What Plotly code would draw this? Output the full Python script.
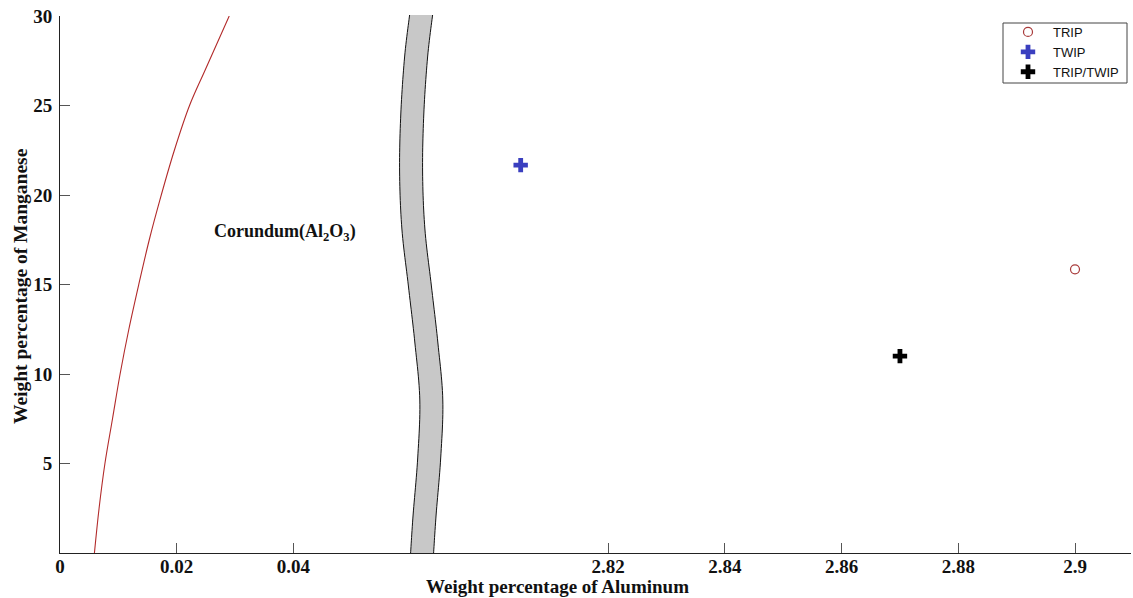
import numpy as np
import plotly.graph_objects as go

# Corundum phase boundary (Al wt% vs Mn wt%)
boundary_al = [0.0059, 0.0067, 0.0077, 0.0090, 0.0103, 0.0118, 0.0135, 0.0153, 0.0171, 0.0196, 0.0222, 0.0249, 0.0290]
boundary_mn = [0.0, 2.5, 5.0, 7.5, 10.0, 12.5, 15.0, 17.5, 19.7, 22.5, 25.0, 27.0, 30.0]

# Steel grades
trip_al, trip_mn = [2.90], [15.85]
twip_al, twip_mn = [2.805], [21.67]
triptwip_al, triptwip_mn = [2.870], [11.0]

left_ticks = [0, 0.02, 0.04]
left_ticklabels = ["0", "0.02", "0.04"]
right_ticks = [2.82, 2.84, 2.86, 2.88, 2.90]
right_ticklabels = ["2.82", "2.84", "2.86", "2.88", "2.9"]
mn_ticks = [5, 10, 15, 20, 25, 30]

W, H = 1133, 598
ML, MR, MT, MB = 60, 2, 16, 45
PW, PH = W - ML - MR, H - MT - MB
BREAK_PX = 422                      # pixel column of the axis break
PX_PER_UNIT = 116.7 / 0.02          # same scale on both x segments
split = (BREAK_PX - ML) / PW
left_range = [0, (BREAK_PX - ML) / PX_PER_UNIT]
right_range = [2.90 - (1075 - BREAK_PX) / PX_PER_UNIT, 2.90 + (W - MR - 1075) / PX_PER_UNIT]

serif = "Liberation Serif"
sans = "Liberation Sans"

fig = go.Figure()

fig.add_trace(go.Scatter(
    x=boundary_al, y=boundary_mn, mode="lines", xaxis="x", yaxis="y",
    line=dict(color="#b22a2a", width=1.1, shape="spline", smoothing=1.0),
    showlegend=False, hoverinfo="skip"))

fig.add_trace(go.Scatter(
    x=trip_al, y=trip_mn, mode="markers", name="TRIP", xaxis="x2", yaxis="y",
    marker=dict(symbol="circle-open", size=9, color="#a83a3a", line=dict(width=1.2))))
fig.add_trace(go.Scatter(
    x=twip_al, y=twip_mn, mode="markers", name="TWIP", xaxis="x2", yaxis="y",
    marker=dict(symbol="cross", size=12, color="#3a3fbf")))
fig.add_trace(go.Scatter(
    x=triptwip_al, y=triptwip_mn, mode="markers", name="TRIP/TWIP", xaxis="x2", yaxis="y",
    marker=dict(symbol="cross", size=12, color="#000000")))


# Wavy grey band marking the break in the x axis (pixel space -> paper space)
band_y = [15, 57, 114, 172, 229, 286, 343, 400, 458, 515, 553]
band_l = [409.6, 404.6, 400.8, 399.6, 401.9, 408.4, 414.9, 419.8, 417.7, 413.1, 410.6]
band_w = 23.0


def catmull(ys, xs, n=12):
    pts = list(zip(xs, ys))
    p = [pts[0]] + pts + [pts[-1]]
    out = []
    for i in range(1, len(p) - 2):
        p0, p1, p2, p3 = map(np.array, (p[i - 1], p[i], p[i + 1], p[i + 2]))
        for t in np.linspace(0, 1, n, endpoint=False):
            t2, t3 = t * t, t * t * t
            out.append(0.5 * ((2 * p1) + (-p0 + p2) * t + (2 * p0 - 5 * p1 + 4 * p2 - p3) * t2
                              + (-p0 + 3 * p1 - 3 * p2 + p3) * t3))
    out.append(np.array(pts[-1]))
    return out


def to_paper(pt):
    return (pt[0] - ML) / PW, 1 - (pt[1] - MT) / PH


left_edge = [to_paper(p) for p in catmull(band_y, band_l)]
right_edge = [to_paper(p) for p in catmull(band_y, [v + band_w for v in band_l])]


def path(points, close=False):
    s = "M " + " L ".join(f"{x:.5f},{y:.5f}" for x, y in points)
    return s + (" Z" if close else "")


fig.add_shape(type="path", xref="paper", yref="paper",
              path=path(left_edge + right_edge[::-1], close=True),
              fillcolor="#c8c8c8", line=dict(width=0), layer="above")
fig.add_shape(type="path", xref="paper", yref="paper", path=path(left_edge),
              line=dict(color="#111111", width=1), layer="above")
fig.add_shape(type="path", xref="paper", yref="paper", path=path(right_edge),
              line=dict(color="#111111", width=1), layer="above")

# legend frame
fig.add_shape(type="rect", xref="paper", yref="paper",
              x0=(1003 - ML) / PW, x1=(1127 - ML) / PW,
              y0=1 - (83 - MT) / PH, y1=1 - (23 - MT) / PH,
              line=dict(color="#444444", width=1), fillcolor="rgba(0,0,0,0)", layer="above")

tickfont = dict(family=serif, size=19, color="#111111", weight="bold")
axis_common = dict(showline=True, linecolor="#222222", linewidth=1, ticks="inside",
                   ticklen=10, tickcolor="#555555", showgrid=False, zeroline=False,
                   tickfont=tickfont)

fig.update_layout(
    width=W, height=H,
    margin=dict(l=ML, r=MR, t=MT, b=MB),
    paper_bgcolor="white", plot_bgcolor="white",
    xaxis=dict(domain=[0, split], range=left_range, tickvals=left_ticks,
               ticktext=left_ticklabels, anchor="y", ticklabelstandoff=-4, **axis_common),
    xaxis2=dict(domain=[split, 1], range=right_range, tickvals=right_ticks,
                ticktext=right_ticklabels, anchor="y", ticklabelstandoff=-4, **axis_common),
    yaxis=dict(range=[0, 30], tickvals=mn_ticks, anchor="x", ticklabelstandoff=3, **axis_common),
    legend=dict(x=(1003 - ML) / PW, y=1 - (17 - MT) / PH, xanchor="left", yanchor="top",
                bgcolor="rgba(0,0,0,0)", borderwidth=0,
                font=dict(family=sans, size=13, color="#111111"),
                itemwidth=40, tracegroupgap=0),
    showlegend=True,
)

fig.add_annotation(text="Weight percentage of Aluminum", xref="paper", yref="paper",
                   x=(557 - ML) / PW, y=1 - (586 - MT) / PH, xanchor="center", yanchor="middle",
                   showarrow=False,
                   font=dict(family=serif, size=19, color="#111111", weight="bold"))
fig.add_annotation(text="Weight percentage of Manganese", xref="paper", yref="paper",
                   x=(20 - ML) / PW, y=1 - (286 - MT) / PH, xanchor="center", yanchor="middle",
                   showarrow=False, textangle=-90,
                   font=dict(family=serif, size=19.5, color="#111111", weight="bold"))
fig.add_annotation(text="Corundum(Al<sub>2</sub>O<sub>3</sub>)", xref="x", yref="y",
                   x=0.0386, y=17.9, xanchor="center", yanchor="middle", showarrow=False,
                   font=dict(family=serif, size=18, color="#111111", weight="bold"))

fig.write_html("out.html")
